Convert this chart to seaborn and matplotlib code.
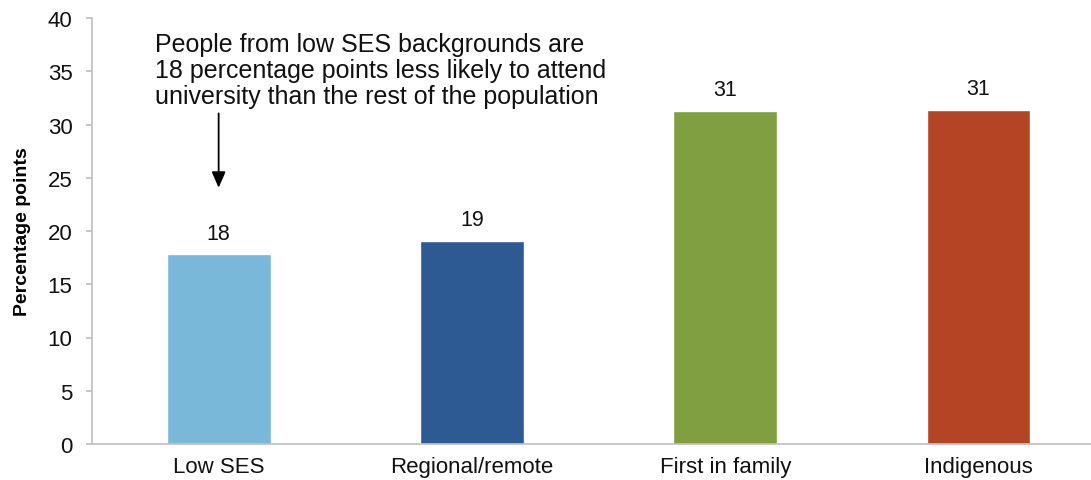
import matplotlib
matplotlib.use("Agg")
import matplotlib.pyplot as plt
import seaborn as sns
import pandas as pd

# Gap in university attendance, by group (percentage points)
categories = ["Low SES", "Regional/remote", "First in family", "Indigenous"]
gap_values = [17.8, 19.1, 31.3, 31.4]
bar_colors = ["#7ab8d9", "#2e5a93", "#7f9f41", "#b44524"]
y_ticks = [0, 5, 10, 15, 20, 25, 30, 35, 40]
note_text = ("People from low SES backgrounds are\n"
             "18 percentage points less likely to attend\n"
             "university than the rest of the population")

sns.set_theme(style="white")
plt.rcParams["font.family"] = ["Liberation Sans", "DejaVu Sans"]

df = pd.DataFrame({"group": categories, "gap": gap_values})

fig = plt.figure(figsize=(10.91, 4.81), dpi=100)
ax = fig.add_axes([92 / 1091, 1 - 445 / 481, 1 - 92 / 1091, (445 - 19) / 481])

sns.barplot(data=df, x="group", y="gap", hue="group", palette=bar_colors,
            width=0.41, legend=False, ax=ax, saturation=1)

ax.set_xlim(-0.5, 3.444)
ax.set_ylim(0, 40)
ax.set_yticks(y_ticks)
ax.tick_params(axis="y", labelsize=16, length=4, color="#bfbfbf", pad=10,
               left=True, direction="out", labelcolor="#111111")
ax.tick_params(axis="x", labelsize=16, length=0, pad=9, labelcolor="#111111")
ax.set_xlabel("")
ax.set_ylabel("Percentage points", fontsize=14, fontweight="bold",
              labelpad=12, color="black")

for side in ["top", "right"]:
    ax.spines[side].set_visible(False)
for side in ["left", "bottom"]:
    ax.spines[side].set_color("#bfbfbf")
    ax.spines[side].set_linewidth(1.2)

# Value labels above the bars
for i, v in enumerate(gap_values):
    ax.text(i, v + 1.0, f"{round(v):d}", ha="center", va="bottom",
            fontsize=15.5, color="#111111")

# Explanatory note with arrow pointing at the Low SES bar
ax.text(-0.251, 38.7, note_text, ha="left", va="top", fontsize=18,
        linespacing=1.1, color="#111111")
ax.annotate("", xy=(0, 23.8), xytext=(0, 31.3),
            arrowprops=dict(arrowstyle="-|>,head_width=0.35,head_length=0.8",
                            color="black", lw=1.3))

fig.savefig("out.png", dpi=100)
